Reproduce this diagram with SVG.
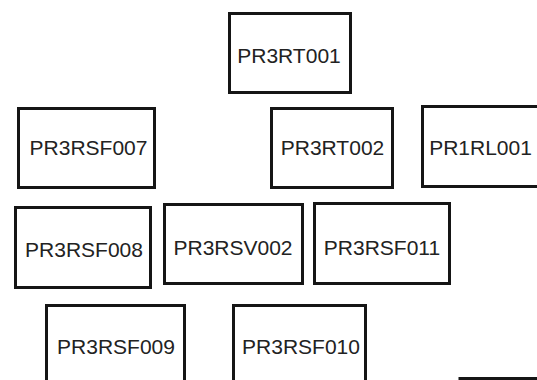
<svg xmlns="http://www.w3.org/2000/svg" width="537" height="380" viewBox="0 0 537 380">
<style>
.box{fill:#ffffff;stroke:#151515;stroke-width:3}
.lbl{font-family:"Liberation Sans",Arial,sans-serif;font-size:21px;fill:#222222;text-anchor:middle}
</style>
<rect width="537" height="380" fill="#ffffff"/>
<g id="connectors"></g>
<g id="PR3RT001"><rect class="box" x="229.5" y="13.5" width="121" height="79"/><text class="lbl" x="289" y="63">PR3RT001</text></g>
<g id="PR3RSF007"><rect class="box" x="18.5" y="108.5" width="136" height="79"/><text class="lbl" x="88.5" y="155">PR3RSF007</text></g>
<g id="PR3RT002"><rect class="box" x="271.5" y="108.5" width="121" height="79"/><text class="lbl" x="332.5" y="155">PR3RT002</text></g>
<g id="PR1RL001"><rect class="box" x="422.5" y="106.5" width="130" height="80"/><text class="lbl" x="480.5" y="155">PR1RL001</text></g>
<g id="PR3RSF008"><rect class="box" x="15.5" y="207.5" width="135" height="80"/><text class="lbl" x="84" y="257">PR3RSF008</text></g>
<g id="PR3RSV002"><rect class="box" x="164.5" y="204.5" width="138" height="79"/><text class="lbl" x="233" y="255">PR3RSV002</text></g>
<g id="PR3RSF011"><rect class="box" x="314.5" y="203.5" width="135" height="80"/><text class="lbl" x="382" y="255">PR3RSF011</text></g>
<g id="PR3RSF009"><rect class="box" x="46.5" y="305.5" width="138" height="90"/><text class="lbl" x="116" y="354">PR3RSF009</text></g>
<g id="PR3RSF010"><rect class="box" x="233.5" y="305.5" width="132" height="90"/><text class="lbl" x="301" y="354">PR3RSF010</text></g>
<g id="partial-node"><rect class="box" x="460" y="378.5" width="100" height="50"/></g>
</svg>
